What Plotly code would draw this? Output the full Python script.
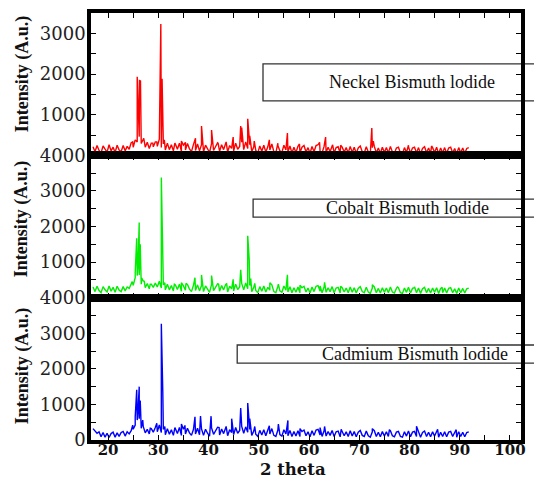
import plotly.graph_objects as go
from plotly.subplots import make_subplots

# ---------------- data ----------------
grid_start = 17.0   # first 2-theta sample of the background scans
grid_step = 0.4     # spacing of background samples (degrees)

ni_background = [210, 90, 240, 120, 60, 230, 150, 80, 260, 110, 200, 70, 250, 130, 90, 240, 110, 220,
                 150, 310, 200, 380, 330,
                 460, 290, 380, 200, 320, 170, 300, 210,
                 330, 220, 400, 190, 280, 130, 300,
                 140, 260, 110, 280, 150, 300, 100, 250, 130, 290, 160, 90, 270,
                 120, 280, 110, 260, 90, 250, 150, 70, 290, 120, 230, 310, 100, 260, 140, 290, 80, 240, 170, 110, 300, 150, 220, 320, 140,
                 330, 170, 260, 90, 210, 120, 60, 230, 100, 250, 80, 210, 130, 280, 90, 60, 240, 110, 70, 250, 130, 80, 230, 60, 200,
                 70, 220, 60, 200, 240, 80, 190, 50, 220, 90, 240, 260, 100, 60, 220, 70, 200, 90, 230, 60, 190, 210, 50, 200, 80,
                 190, 60, 220, 70, 200, 50, 180, 230, 90, 60, 210, 80, 40, 190, 220, 60, 180, 50, 200, 70, 190, 60, 220, 80, 50,
                 180, 200, 60, 40, 190, 70, 210, 50, 180, 200, 60, 190, 40, 170, 210, 60, 180, 50, 190, 70, 200, 40, 180, 60, 190,
                 50, 180, 200, 60, 170, 40, 190, 60, 180, 50, 170, 190]
ni_peak_pos = [24.9, 25.8, 26.05, 26.25, 26.45, 27.1, 28.9, 29.7, 30.5, 30.75, 31.2, 33.3, 34.6, 35.4, 37.4, 38.6,
               40.6, 41.9, 43.5, 44.9, 46.4, 46.6, 47.8, 48.2, 49.1, 52.1, 53.8, 55.7, 58.1, 62.1, 63.3, 64.7,
               66.3, 72.5, 72.8, 79.8, 84.4]
ni_peak_int = [330, 1930, 700, 1840, 1830, 420, 300, 330, 3230, 1880, 380, 300, 350, 320, 420, 720,
               620, 300, 330, 450, 720, 680, 900, 480, 350, 380, 300, 550, 280, 320, 450, 260,
               250, 670, 350, 250, 230]

co_background = [300, 170, 320, 200, 140, 310, 220, 160, 330, 180, 290, 150, 320, 210, 170, 310, 190, 300,
                 260, 400, 350, 560, 620,
                 640, 380, 470, 280, 400, 250, 380, 290,
                 410, 300, 460, 270, 360, 220, 380,
                 220, 340, 190, 360, 230, 380, 180, 330, 210, 370, 240, 170, 350,
                 200, 360, 190, 340, 170, 330, 230, 150, 370, 200, 310, 390, 180, 340, 220, 370, 160, 320, 250, 190, 380, 230, 300, 400, 220,
                 410, 250, 340, 170, 290, 200, 140, 310, 180, 330, 160, 290, 210, 360, 170, 140, 320, 190, 150, 330, 210, 160, 310, 140, 280,
                 150, 300, 140, 280, 320, 160, 270, 130, 300, 170, 320, 340, 180, 140, 300, 150, 280, 170, 310, 140, 270, 290, 130, 280, 160,
                 270, 140, 300, 150, 280, 130, 260, 310, 170, 140, 290, 160, 120, 270, 300, 140, 260, 130, 280, 150, 270, 140, 300, 160, 130,
                 260, 280, 140, 120, 270, 150, 290, 130, 260, 280, 140, 270, 120, 250, 290, 140, 260, 130, 270, 150, 280, 120, 260, 140, 270,
                 130, 260, 280, 140, 250, 120, 270, 140, 260, 130, 250, 270]
co_peak_pos = [24.8, 25.4, 25.7, 25.95, 26.2, 26.4, 26.7, 27.2, 28.4, 29.5, 30.6, 30.9, 31.3, 33.2, 34.6, 35.5,
               37.3, 38.6, 40.6, 42.0, 43.6, 44.9, 46.4, 47.8, 48.1, 48.4, 49.2, 52.2, 53.9, 55.7, 58.2, 62.2,
               63.1, 66.3, 72.6, 77.6, 81.0, 86.5]
co_peak_int = [450, 700, 1670, 900, 2110, 1500, 550, 460, 380, 380, 3380, 1200, 420, 380, 420, 400,
               560, 640, 620, 380, 400, 515, 780, 1740, 1060, 540, 400, 420, 380, 640, 350, 330,
               430, 320, 360, 300, 310, 290]

cd_background = [320, 250, 190, 230, 90, 210, 80, 190, 70, 180, 220, 80, 200, 100, 210, 240, 110, 230,
                 170, 260, 300, 420, 560,
                 600, 330, 380, 200, 300, 170, 320, 220,
                 350, 230, 420, 210, 300, 150, 320,
                 160, 290, 130, 310, 180, 350, 130, 300, 170, 330, 200, 130, 300,
                 170, 330, 150, 310, 130, 300, 190, 110, 340, 160, 280, 360, 140, 310, 180, 340, 120, 290, 210, 150, 350, 190, 270, 380, 190,
                 370, 220, 300, 130, 250, 160, 100, 270, 140, 290, 120, 250, 170, 320, 130, 100, 280, 150, 110, 290, 170, 120, 270, 100, 240,
                 110, 260, 100, 240, 280, 120, 230, 90, 260, 130, 280, 300, 140, 100, 260, 110, 240, 130, 270, 100, 230, 250, 90, 240, 120,
                 230, 100, 260, 110, 240, 90, 220, 270, 130, 100, 250, 120, 80, 230, 260, 100, 220, 90, 240, 110, 230, 100, 260, 120, 90,
                 220, 240, 100, 80, 230, 110, 250, 90, 220, 240, 100, 230, 80, 210, 250, 100, 220, 90, 230, 110, 240, 80, 220, 100, 230,
                 90, 220, 240, 100, 210, 80, 230, 100, 220, 90, 210, 230]
cd_peak_pos = [24.9, 25.4, 25.7, 25.95, 26.2, 26.4, 26.9, 28.4, 29.7, 30.6, 30.9, 31.3, 33.3, 34.6, 35.3, 37.3,
               38.4, 40.5, 42.1, 43.5, 44.6, 46.4, 47.8, 48.2, 49.2, 52.1, 53.9, 55.8, 58.2, 62.2, 63.1, 66.4,
               72.6, 76.0, 81.4, 85.6, 89.3]
cd_peak_int = [420, 650, 1410, 800, 1500, 1110, 560, 330, 470, 3270, 1300, 380, 350, 450, 410, 650,
               670, 670, 350, 380, 600, 900, 1040, 600, 380, 400, 450, 550, 320, 350, 380, 300,
               320, 290, 390, 300, 290]

sample_names = ["Neckel Bismuth lodide", "Cobalt Bismuth lodide", "Cadmium Bismuth lodide"]
line_colors = ["#ff0000", "#00ee00", "#0000ff"]

x_ticks = [20, 30, 40, 50, 60, 70, 80, 90, 100]
x_minor = [25, 35, 45, 55, 65, 75, 85, 95]
y_ticks_by_panel = [[1000, 2000, 3000], [1000, 2000, 3000, 4000], [0, 1000, 2000, 3000, 4000]]
y_minor_by_panel = [[500, 1500, 2500], [500, 1500, 2500, 3500], [500, 1500, 2500, 3500]]
y_ranges = [[0, 3500], [0, 4000], [0, 4000]]
x_range = [16.6, 102.2]


def merge(bg, ppos, pint):
    pts = [(grid_start + grid_step * i, v) for i, v in enumerate(bg)]
    pts += list(zip(ppos, pint))
    pts.sort()
    return [p[0] for p in pts], [p[1] for p in pts]


series = [merge(ni_background, ni_peak_pos, ni_peak_int),
          merge(co_background, co_peak_pos, co_peak_int),
          merge(cd_background, cd_peak_pos, cd_peak_int)]

# ---------------- figure ----------------
fig = make_subplots(rows=3, cols=1, shared_xaxes=True, vertical_spacing=0)

for r, ((xs, ys), col) in enumerate(zip(series, line_colors), start=1):
    fig.add_trace(go.Scatter(x=xs, y=ys, mode="lines", line=dict(color=col, width=1.4),
                             showlegend=False, hoverinfo="skip"), row=r, col=1)

axis_common = dict(showline=True, linecolor="black", linewidth=3.5, mirror="ticks",
                   ticks="inside", ticklen=5, tickwidth=1.3, tickcolor="black",
                   showgrid=False, zeroline=False, automargin=False)

for r in range(1, 4):
    fig.update_xaxes(range=x_range, tickvals=x_ticks,
                     minor=dict(tickvals=x_minor, ticks="inside", ticklen=5, tickwidth=1.3, tickcolor="black"),
                     tickfont=dict(family="DejaVu Serif", size=15, color="#111", weight="bold"),
                     ticklabelstandoff=-7,
                     showticklabels=(r == 3), row=r, col=1, **axis_common)
    fig.update_yaxes(range=y_ranges[r - 1], tickvals=y_ticks_by_panel[r - 1],
                     minor=dict(tickvals=y_minor_by_panel[r - 1], ticks="inside", ticklen=5, tickwidth=1.3,
                                tickcolor="black"),
                     tickfont=dict(family="DejaVu Serif", size=18, color="#222"),
                     ticklabelstandoff=-2, row=r, col=1, **axis_common)

# label boxes (extend past the right frame, as in the reference)
box_specs = [
    dict(x0=0.40, y0=0.794, y1=0.881, tx=0.7465, ty=0.838),
    dict(x0=0.377, y0=0.522, y1=0.564, tx=0.737, ty=0.5433),
    dict(x0=0.34, y0=0.180, y1=0.2225, tx=0.7535, ty=0.2014),
]
for spec, name in zip(box_specs, sample_names):
    fig.add_shape(type="rect", xref="paper", yref="paper", x0=spec["x0"], x1=1.06,
                  y0=spec["y0"], y1=spec["y1"], line=dict(color="#333", width=1.3),
                  fillcolor="white", layer="below")
    fig.add_annotation(text=name, xref="paper", yref="paper", x=spec["tx"], y=spec["ty"],
                       showarrow=False, xanchor="center", yanchor="middle",
                       font=dict(family="Liberation Serif", size=18, color="#111"))

# y titles for each panel
for yc in [0.857, 0.5176, 0.173]:
    fig.add_annotation(text="Intensity (A.u.)", xref="paper", yref="paper", x=-0.16, y=yc,
                       textangle=-90, showarrow=False, xanchor="center", yanchor="middle",
                       font=dict(family="Liberation Serif", size=18, color="#111", weight="bold"))

fig.add_annotation(text="2 theta", xref="paper", yref="paper", x=0.47, y=-0.068,
                   showarrow=False, xanchor="center", yanchor="middle",
                   font=dict(family="DejaVu Serif", size=16.5, color="#111", weight="bold"))

fig.update_layout(width=534, height=479, margin=dict(l=91, r=13, t=13, b=39),
                  paper_bgcolor="white", plot_bgcolor="white")

fig.write_html("out.html")
